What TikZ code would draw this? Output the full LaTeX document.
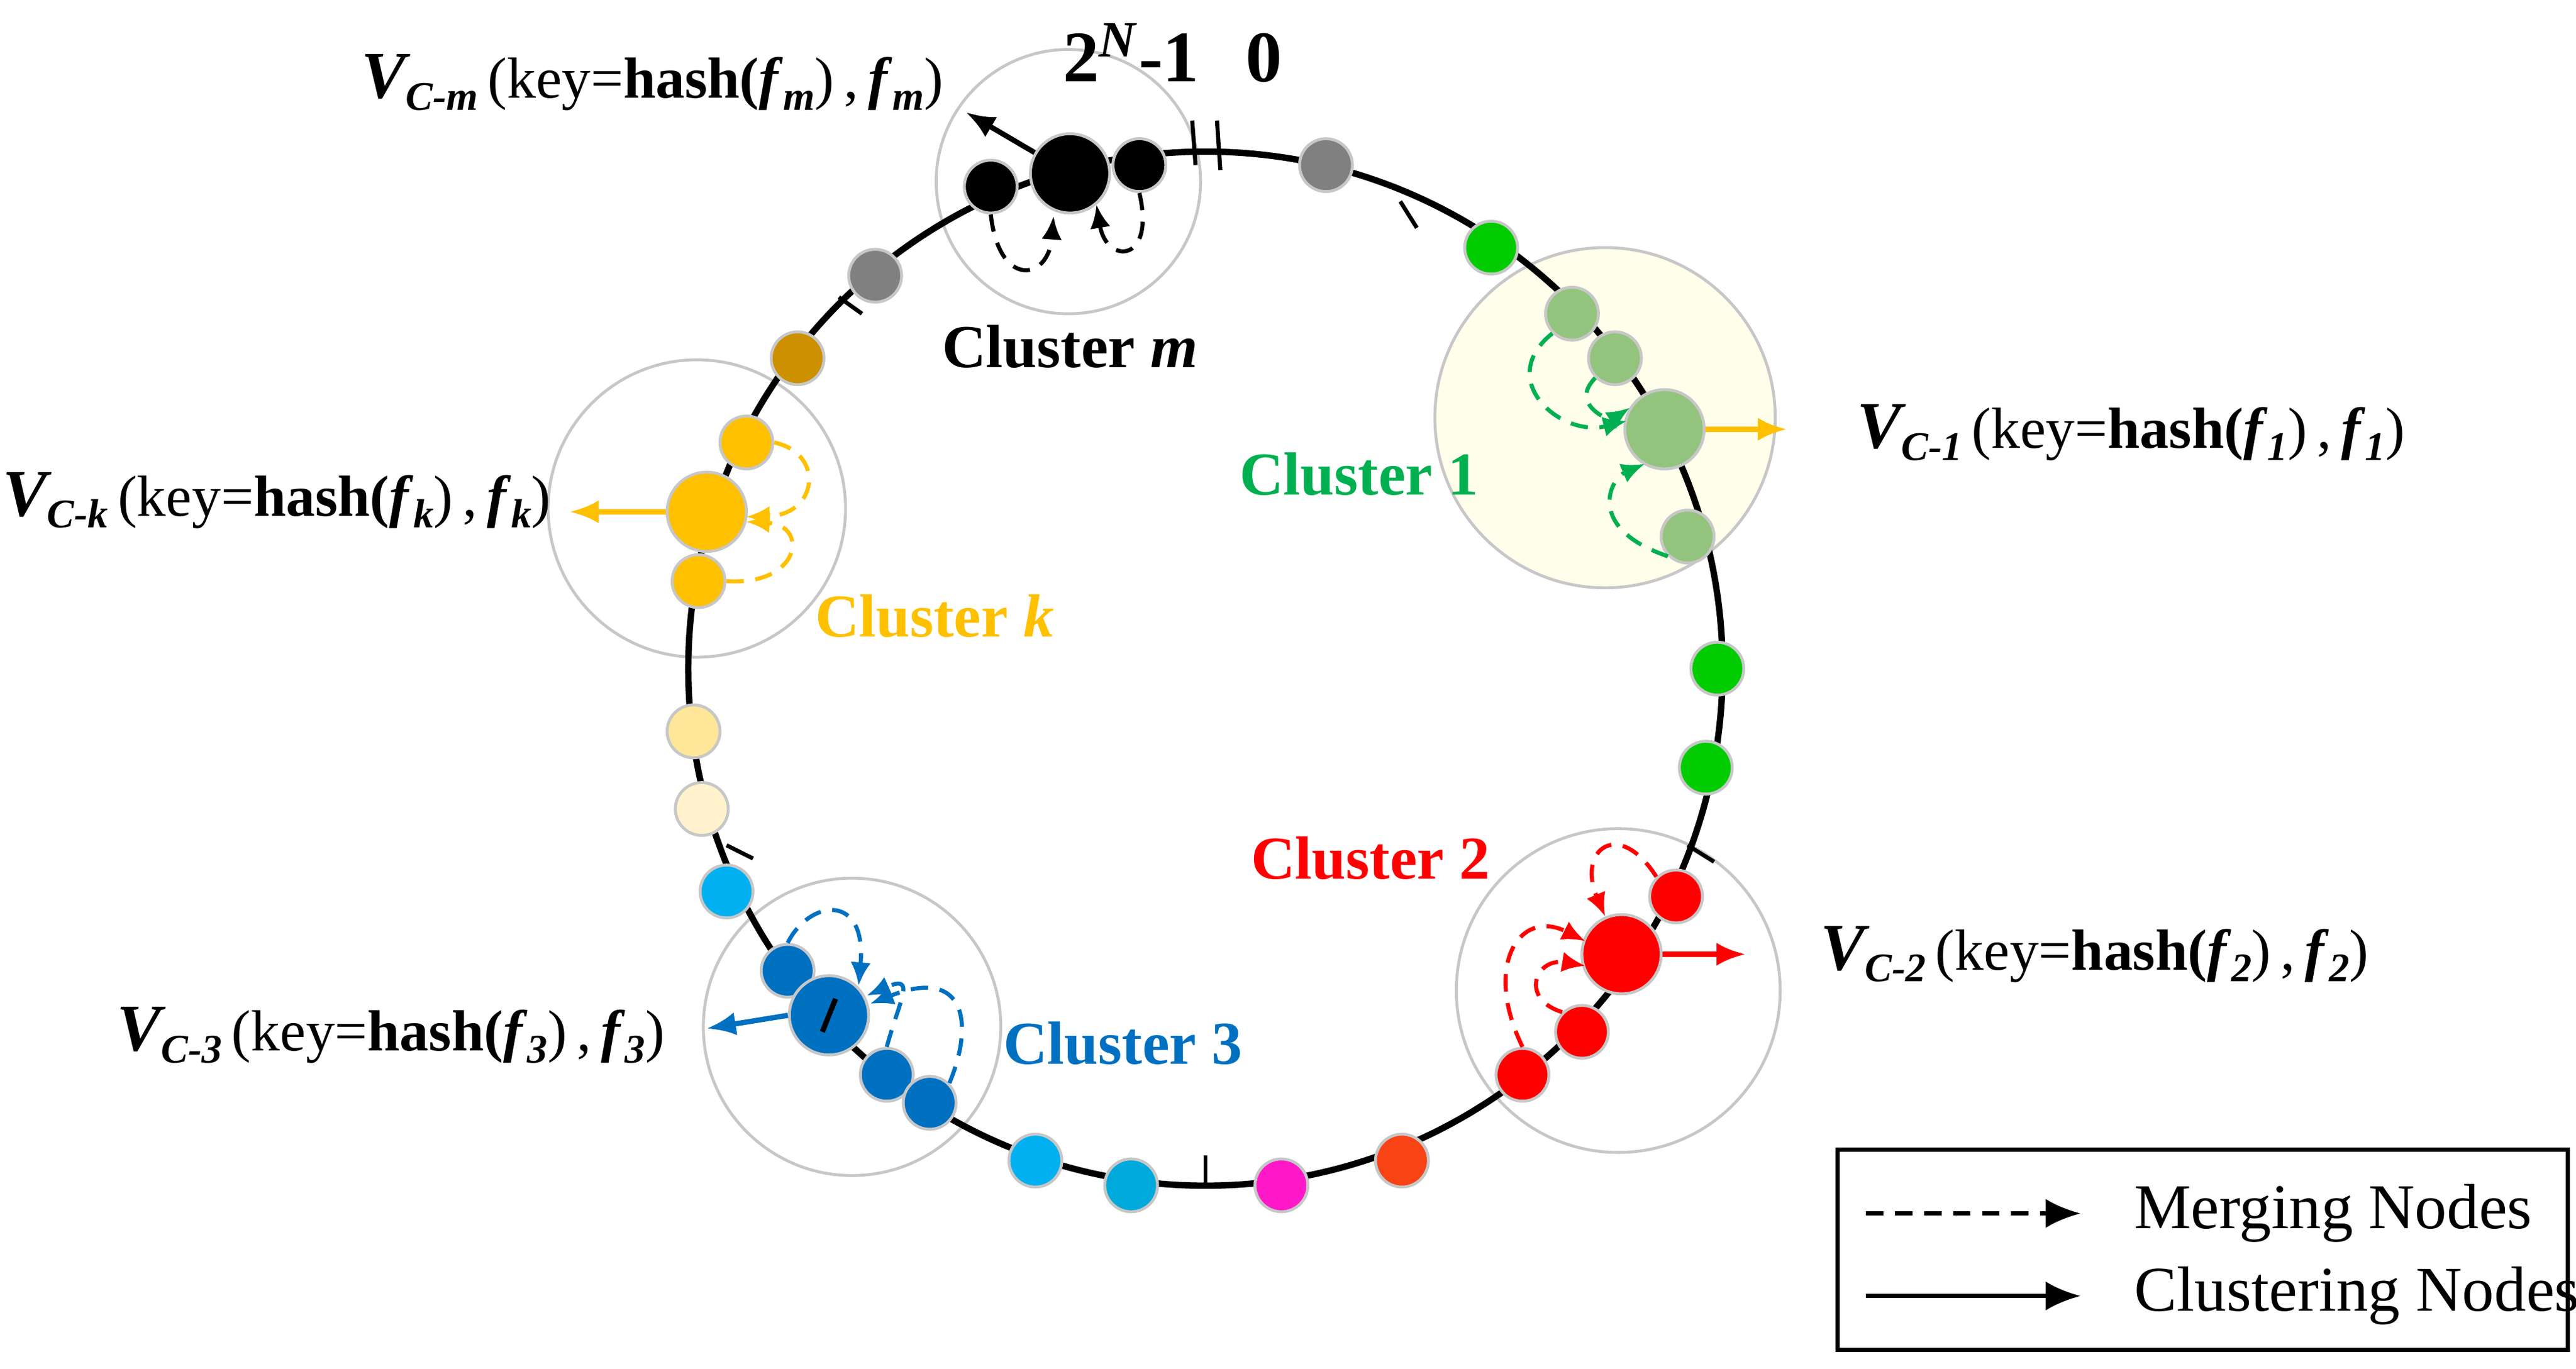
\documentclass[tikz,border=0pt]{standalone}
\usepackage{fontspec}
\setmainfont{Liberation Serif}
\usetikzlibrary{arrows.meta}
\definecolor{cgreen}{HTML}{00CC00}
\definecolor{lgreen}{HTML}{93C47D}
\definecolor{tgreen}{HTML}{00B050}
\definecolor{cblue}{HTML}{0070C0}
\definecolor{sky}{HTML}{00B0F0}
\definecolor{sky2}{HTML}{00A9DC}
\definecolor{cyell}{HTML}{FFC000}
\definecolor{gold}{HTML}{CC9000}
\definecolor{cream}{HTML}{FFF2CC}
\definecolor{cream2}{HTML}{FFE699}
\definecolor{ored}{HTML}{F84315}
\definecolor{mag}{HTML}{FF19C8}
\newcommand{\sbi}[1]{\raisebox{-0.45ex}{\fontsize{7}{7}\selectfont\bfseries\itshape #1}}
\newcommand{\vlab}[1]{{\fontsize{11.5}{11.5}\selectfont\bfseries\itshape V}\sbi{C-#1}\,(key=\textbf{hash(\textit{f}}\sbi{#1})\,,\,\textbf{\textit{f}}\sbi{#1})}
\begin{document}
\begin{tikzpicture}[x=0.01cm,y=-0.01cm,
 nd/.style={circle,draw=black!22,line width=0.5pt,inner sep=0pt,minimum size=0.32cm},
 bg/.style={minimum size=0.48cm},
 cl/.style={circle,draw=black!22,line width=0.5pt,inner sep=0pt},
 tk/.style={line width=0.7pt},
 mg/.style={densely dashed,line width=0.7pt,-{Latex[length=4pt,width=3.5pt]}},
 ck/.style={line width=0.9pt,-{Latex[length=5pt,width=4pt]}},
 lab/.style={font=\fontsize{10.5}{10.5}\selectfont\bfseries},
 vl/.style={font=\fontsize{10}{10}\selectfont}]
\useasboundingbox (0,0) rectangle (1560,829);
% cluster circles
\node[cl,minimum size=1.6cm,fill=white] (Cm) at (647,110) {};
\node[cl,minimum size=2.06cm,fill=yellow!8!white] (C1) at (972,253) {};
\node[cl,minimum size=1.96cm] (C2) at (980,600) {};
\node[cl,minimum size=1.8cm] (C3) at (516,622) {};
\node[cl,minimum size=1.8cm] (Ck) at (422,308) {};
% ring
\draw[line width=1.1pt] (730,405) circle (3.13cm);
% ticks
\draw[tk] (722,73) -- (724,100);
\draw[tk] (737,73) -- (739,103);
\draw[tk] (848,122) -- (858,138);
\draw[tk] (508,180) -- (522,190);
\draw[tk] (1022,512) -- (1038,522);
\draw[tk] (440,512) -- (456,520);
\draw[tk] (730,700) -- (730,718);
% nodes
\node[nd,fill=black] (m1) at (600,113) {};
\node[nd,fill=black] (m3) at (690,100) {};
\node[nd,bg,fill=black] (m2) at (648,105) {};
\node[nd,fill=gray] (g1) at (803,100) {};
\node[nd,fill=gray] (g2) at (530,167) {};
\node[nd,fill=gold] (g3) at (483,217) {};
\node[nd,fill=cgreen] (n1) at (903,150) {};
\node[nd,fill=lgreen] (a1) at (952,190) {};
\node[nd,fill=lgreen] (a2) at (978,217) {};
\node[nd,bg,fill=lgreen] (a3) at (1008,260) {};
\node[nd,fill=lgreen] (a4) at (1022,325) {};
\node[nd,fill=cgreen] (n2) at (1040,405) {};
\node[nd,fill=cgreen] (n3) at (1033,465) {};
\node[nd,fill=red] (r1) at (1015,543) {};
\node[nd,bg,fill=red] (r2) at (982,578) {};
\node[nd,fill=red] (r3) at (958,625) {};
\node[nd,fill=red] (r4) at (922,651) {};
\node[nd,fill=ored] (n4) at (849,703) {};
\node[nd,fill=mag] (n5) at (776,718) {};
\node[nd,fill=sky2] (n6) at (685,718) {};
\node[nd,fill=sky] (n7) at (627,703) {};
\node[nd,fill=cblue] (b1) at (477,588) {};
\node[nd,fill=cblue] (b3) at (537,651) {};
\node[nd,fill=cblue] (b4) at (563,668) {};
\node[nd,bg,fill=cblue] (b2) at (502,615) {};
\draw[line width=0.9pt] (498,625) -- (506,605);
\node[nd,fill=sky] (n8) at (440,540) {};
\node[nd,fill=cream] (n9) at (425,490) {};
\node[nd,fill=cream2] (n10) at (420,443) {};
\node[nd,fill=cyell] (y1) at (452,268) {};
\node[nd,bg,fill=cyell] (y2) at (428,310) {};
\node[nd,fill=cyell] (y3) at (423,352) {};
% merging arrows
\draw[mg] (m1.south) .. controls (605,175) and (635,170) .. (638,131);
\draw[mg] (m3.south) .. controls (700,160) and (670,160) .. (664,124);
\draw[mg,tgreen] (a1.south west) .. controls (905,230) and (945,265) .. (985,255);
\draw[mg,tgreen] (a2.south west) .. controls (950,245) and (975,255) .. (987,247);
\draw[mg,tgreen] (a4.south west) .. controls (960,320) and (975,290) .. (996,281);
\draw[mg,cyell] (y1.east) .. controls (500,275) and (495,312) .. (452,313);
\draw[mg,cyell] (y3.east) .. controls (485,355) and (490,318) .. (452,316);
\draw[mg,red] (r1.north west) .. controls (980,495) and (955,515) .. (972,555);
\draw[mg,red] (r4.north) .. controls (898,585) and (920,550) .. (960,570);
\draw[mg,red] (r3.north west) .. controls (920,605) and (930,580) .. (960,585);
\draw[mg,cblue] (b1.north) .. controls (490,545) and (525,540) .. (520,597);
\draw[mg,cblue] (b3.north) .. controls (545,605) and (555,590) .. (525,603);
\draw[mg,cblue] (b4.north east) .. controls (590,620) and (585,585) .. (527,608);
% clustering arrows
\coordinate (em) at (585,68);
\draw[ck] (m2) -- (em);
\coordinate (e1) at (1082,260);
\draw[ck,cyell] (a3.east) -- (e1);
\coordinate (e2) at (1057,578);
\draw[ck,red] (r2.east) -- (e2);
\coordinate (e3) at (428,623);
\draw[ck,cblue] (b2.west) -- (e3);
\coordinate (ek) at (345,310);
\draw[ck,cyell] (y2.west) -- (ek);
% labels
\node[font=\fontsize{12.5}{12.5}\selectfont\bfseries] (top) at (710,32) {2\textsuperscript{\itshape N}-1\hspace{8pt}0};
\node[vl] (lm) at (395,50) {\vlab{m}};
\node[vl,anchor=west] (l1) at (1112,262) {\vlab{1}};
\node[vl,anchor=west] (l2) at (1090,578) {\vlab{2}};
\node[vl,anchor=east] (l3) at (415,627) {\vlab{3}};
\node[vl,anchor=east] (lk) at (346,303) {\vlab{k}};
\node[lab] (tm) at (648,210) {Cluster \textit{m}};
\node[lab,text=tgreen] (t1) at (823,287) {Cluster 1};
\node[lab,text=red] (t2) at (830,520) {Cluster 2};
\node[lab,text=cblue] (t3) at (680,632) {Cluster 3};
\node[lab,text=cyell] (tk) at (566,373) {Cluster \textit{k}};
% legend
\node[draw=black,line width=0.7pt,minimum width=4.42cm,minimum height=1.21cm,inner sep=0pt] (leg) at (1334,757) {};
\coordinate (la) at (1130,735); \coordinate (lb) at (1260,735);
\coordinate (lc) at (1130,785); \coordinate (ld) at (1260,785);
\draw[densely dashed,line width=0.7pt,-{Latex[length=6pt,width=5pt]}] (la) -- (lb);
\draw[line width=0.7pt,-{Latex[length=6pt,width=5pt]}] (lc) -- (ld);
\node[anchor=west,font=\fontsize{11}{11}\selectfont] (lt1) at (1280,735) {Merging Nodes};
\node[anchor=west,font=\fontsize{11}{11}\selectfont] (lt2) at (1280,785) {Clustering Nodes};
\end{tikzpicture}
\end{document}
